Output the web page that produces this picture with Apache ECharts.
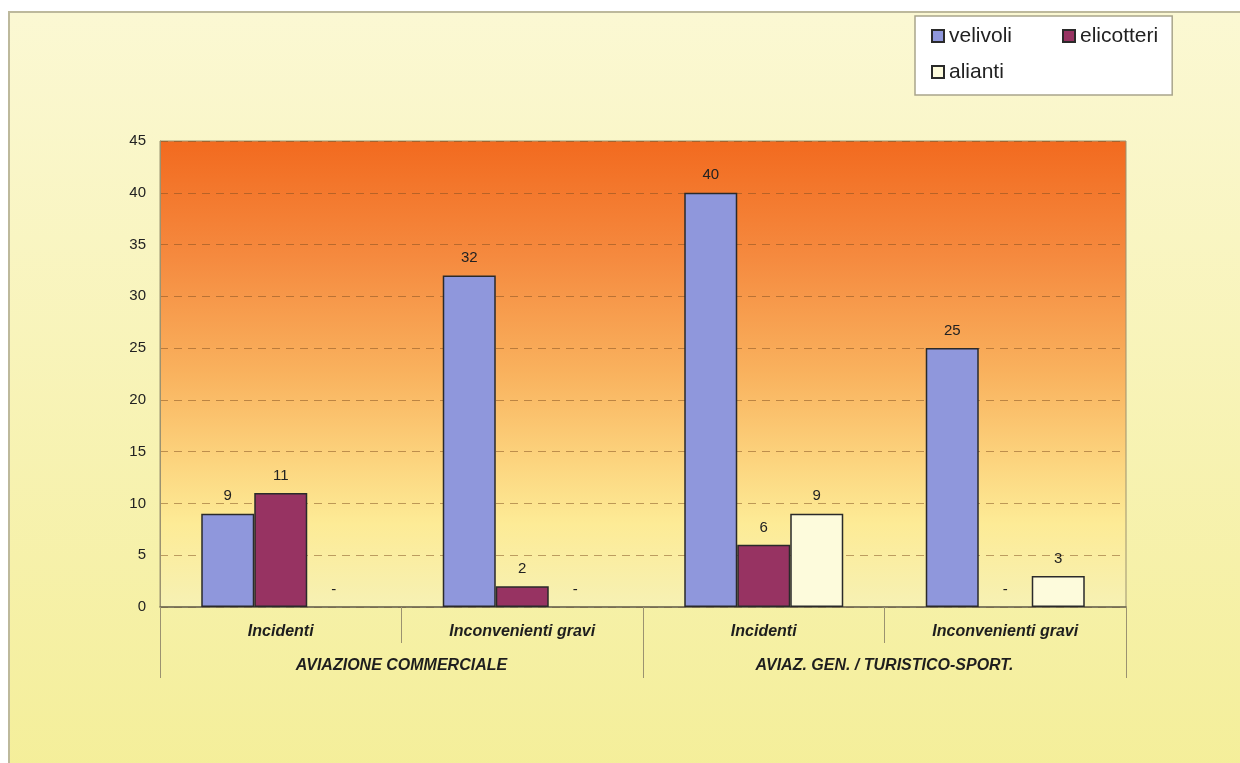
<!DOCTYPE html>
<html>
<head>
<meta charset="utf-8">
<script src="https://cdn.jsdelivr.net/npm/echarts@6/dist/echarts.min.js"></script>
<style>
  html, body { margin: 0; padding: 0; background: #ffffff; }
  #chart { width: 1240px; height: 763px; }
</style>
</head>
<body>
<div id="chart"></div>
<script>
// Event types (inner axis) and sectors (outer axis)
const eventTypes = ['Incidenti', 'Inconvenienti gravi', 'Incidenti', 'Inconvenienti gravi'];
const sectors = ['AVIAZIONE COMMERCIALE', 'AVIAZ. GEN. / TURISTICO-SPORT.'];

// Counts per aircraft type
const velivoli   = [9, 32, 40, 25];
const elicotteri = [11, 2, 6, 0];
const alianti    = [0, 0, 9, 3];

const yTicks = { min: 0, max: 45, interval: 5 };

const FONT = 'Liberation Sans, Arial, Helvetica, sans-serif';

function barData(values) {
  return values.map(v => v === 0 ? { value: v, itemStyle: { borderWidth: 0 } } : v);
}

function barSeries(name, values, color) {
  return {
    name: name,
    type: 'bar',
    xAxisIndex: 0,
    barWidth: 53,
    barGap: '0%',
    data: barData(values),
    itemStyle: { color: color, borderColor: '#2a2a2a', borderWidth: 1.5 },
    label: {
      show: true,
      position: 'top',
      distance: 10,
      color: '#222',
      fontFamily: FONT,
      fontSize: 15,
      formatter: p => (p.value === 0 ? '-' : String(p.value))
    }
  };
}

const chart = echarts.init(document.getElementById('chart'), null, { renderer: 'canvas' });

chart.setOption({
  animation: false,
  backgroundColor: '#ffffff',
  graphic: [{
    type: 'rect',
    z: -10,
    silent: true,
    shape: { x: 9, y: 12, width: 1250, height: 780 },
    style: {
      fill: new echarts.graphic.LinearGradient(0, 0, 0, 1, [
        { offset: 0, color: '#fbf8d3' },
        { offset: 1, color: '#f4ee98' }
      ]),
      stroke: '#bdb99c',
      lineWidth: 2
    }
  }],
  legend: {
    left: 915,
    top: 16,
    width: 240,
    padding: [7, 14, 10, 16],
    itemGap: 10,
    itemWidth: 12,
    itemHeight: 12,
    itemTextGap: 6,
    backgroundColor: '#ffffff',
    borderColor: '#a9a58c',
    borderWidth: 1.5,
    borderRadius: 0,
    textStyle: { fontFamily: FONT, fontSize: 21, color: '#222', lineHeight: 26 },
    data: [
      { name: 'velivoli', icon: 'rect', textStyle: { width: 103 } },
      { name: 'elicotteri', icon: 'rect' },
      { name: 'alianti', icon: 'rect' }
    ]
  },
  grid: {
    left: 160,
    right: 114,
    top: 141,
    bottom: 156,
    show: true,
    borderColor: '#9b9270',
    borderWidth: 1,
    backgroundColor: new echarts.graphic.LinearGradient(0, 0, 0, 1, [
      { offset: 0, color: '#f26a1f' },
      { offset: 0.25, color: '#f58a3f' },
      { offset: 0.5, color: '#f9b25e' },
      { offset: 0.68, color: '#fcd37d' },
      { offset: 0.82, color: '#fdeb96' },
      { offset: 1, color: '#f6f1b4' }
    ])
  },
  xAxis: [
    {
      type: 'category',
      position: 'bottom',
      data: eventTypes,
      axisLine: { show: true, lineStyle: { color: '#6b6650', width: 1.5 } },
      axisTick: { show: true, interval: 0, length: 36, lineStyle: { color: '#9b9270' } },
      axisLabel: {
        interval: 0,
        margin: 17,
        color: '#1e1e1e',
        fontFamily: FONT,
        fontSize: 16,
        fontWeight: 'bold',
        fontStyle: 'italic'
      }
    },
    {
      type: 'category',
      position: 'bottom',
      data: sectors,
      axisLine: { show: false },
      axisTick: { show: true, interval: 0, length: 71, lineStyle: { color: '#9b9270' } },
      axisLabel: {
        interval: 0,
        margin: 51,
        color: '#1e1e1e',
        fontFamily: FONT,
        fontSize: 16,
        fontWeight: 'bold',
        fontStyle: 'italic'
      }
    }
  ],
  yAxis: {
    type: 'value',
    min: yTicks.min,
    max: yTicks.max,
    interval: yTicks.interval,
    axisLine: { show: true, lineStyle: { color: '#9b9270' } },
    axisTick: { show: false },
    axisLabel: { margin: 14, color: '#222', fontFamily: FONT, fontSize: 15 },
    splitLine: {
      show: true,
      lineStyle: { color: 'rgba(125,75,30,0.5)', type: [8, 6], width: 1.2 }
    }
  },
  series: [
    barSeries('velivoli', velivoli, '#8f97dc'),
    barSeries('elicotteri', elicotteri, '#973362'),
    barSeries('alianti', alianti, '#fdfbdc')
  ]
});
</script>
</body>
</html>
